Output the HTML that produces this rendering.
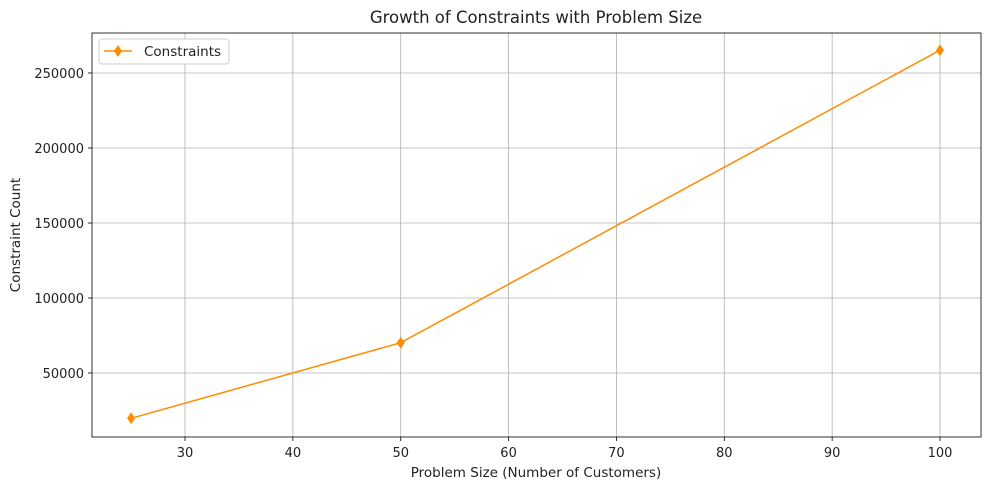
<!DOCTYPE html>
<html><head><meta charset="utf-8"><style>
body{margin:0;background:#fff;font-family:"Liberation Sans","DejaVu Sans",sans-serif;}
svg text{font-family:"DejaVu Sans","Liberation Sans",sans-serif;fill:#222;}
</style></head><body>
<svg id="chart" width="989" height="490" xmlns="http://www.w3.org/2000/svg">
<rect x="0" y="0" width="989" height="490" fill="#fff"/>
<g id="grid"></g><g id="axes"></g><g id="series"></g>
<text x="536" y="23" text-anchor="middle" font-size="16.5">Growth of Constraints with Problem Size</text>
<text x="536" y="477" text-anchor="middle" font-size="13.5">Problem Size (Number of Customers)</text>
<text transform="translate(20,235) rotate(-90)" text-anchor="middle" font-size="13.5">Constraint Count</text>
<g>
<rect x="99" y="39" width="130" height="25" rx="3" fill="#fff" stroke="#ccc"/>
<line x1="104" y1="51" x2="132" y2="51" stroke="#ff8c00" stroke-width="1.5"/>
<path d="M118,45 L122,51 L118,57 L114,51 Z" fill="#ff8c00"/>
<text x="144" y="56" font-size="13.5">Constraints</text>
</g>
</svg>
<script>
const categories=[25,50,100];
const values=[19800,70200,265200];
const xTicks=[30,40,50,60,70,80,90,100];
const yTicks=[50000,100000,150000,200000,250000];
const L=92,R=981,T=33,B=437;
const xs=v=>185+(v-30)*10.786;
const ys=v=>373-(v-50000)*75/50000;
const NS="http://www.w3.org/2000/svg";
function mk(tag,attrs,parent){const e=document.createElementNS(NS,tag);for(const k in attrs)e.setAttribute(k,attrs[k]);document.getElementById(parent).appendChild(e);return e;}
xTicks.forEach(t=>{const x=xs(t);
 const g=mk('line',{x1:x,x2:x,y1:T,y2:B,stroke:'#b0b0b0','stroke-width':0.8},'grid');
 
 
 mk('line',{x1:x,x2:x,y1:B,y2:B+4,stroke:'#000','stroke-width':0.8},'axes');
 const tx=mk('text',{x:x,y:B+20,'text-anchor':'middle','font-size':13},'axes');tx.textContent=t;
 
 
});
yTicks.forEach(t=>{const y=ys(t);
 const g=mk('line',{x1:L,x2:R,y1:y,y2:y,stroke:'#b0b0b0','stroke-width':0.8},'grid');
 
 
 mk('line',{x1:L-4,x2:L,y1:y,y2:y,stroke:'#000','stroke-width':0.8},'axes');
 const tx=mk('text',{x:L-8,y:y+5,'text-anchor':'end','font-size':13},'axes');tx.textContent=t;
 
 
});
const fr=mk('rect',{x:L,y:T,width:R-L,height:B-T,fill:'none',stroke:'#000','stroke-width':0.8},'axes');


const pts=categories.map((c,i)=>xs(c)+','+ys(values[i])).join(' ');
const pl=mk('polyline',{points:pts,fill:'none',stroke:'#ff8c00','stroke-width':1.5},'series');


categories.forEach((c,i)=>{const x=xs(c),y=ys(values[i]);
 const m=mk('path',{d:`M${x},${y-6} L${x+4},${y} L${x},${y+6} L${x-4},${y} Z`,fill:'#ff8c00'},'series');
 
 
});
</script>
</body></html>
